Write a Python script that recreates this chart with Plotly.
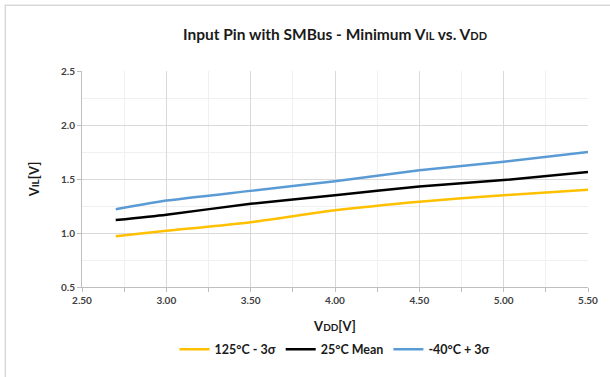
import plotly.graph_objects as go

vdd = [2.7, 3.0, 3.5, 4.0, 4.5, 5.0, 5.5]
hot_minus_3s = [0.97, 1.02, 1.10, 1.21, 1.29, 1.35, 1.40]
room_mean = [1.12, 1.17, 1.27, 1.35, 1.43, 1.49, 1.565]
cold_plus_3s = [1.22, 1.30, 1.39, 1.48, 1.58, 1.66, 1.75]
names = ["125°C - 3σ", "25°C Mean", "-40°C + 3σ"]
colors = ["#FFC000", "#000000", "#5B9BD5"]

FONT = "Lato, 'Open Sans', sans-serif"
fig = go.Figure()
for ys, n, c in zip([hot_minus_3s, room_mean, cold_plus_3s], names, colors):
    fig.add_trace(go.Scatter(x=vdd, y=ys, name="<b>" + n + "</b>", mode="lines",
                             line=dict(color=c, width=2.5, shape="spline", smoothing=0.6)))

L, R, T, B = 82, 20, 71, 89
W, H = 610, 377
pw, ph = W - L - R, H - T - B

def px(x):
    return (x - L) / pw

def py(y):
    return (H - B - y) / ph

fig.update_layout(
    width=W, height=H,
    margin=dict(l=L, r=R, t=T, b=B),
    paper_bgcolor="white", plot_bgcolor="white",
    font=dict(family=FONT, color="#404040"),
    title=dict(text="<b>Input Pin with SMBus - Minimum V<span style='font-size:11px'>IL</span> vs. V<span style='font-size:11px'>DD</span></b>",
               x=0.5, xref="paper", y=1 - 35 / H, yanchor="middle",
               font=dict(size=15.5, color="#1a1a1a", family=FONT)),
    xaxis=dict(range=[2.5, 5.5], dtick=0.5, tickformat=".2f",
               showgrid=True, gridcolor="#d9d9d9", gridwidth=1,
               minor=dict(dtick=0.25, showgrid=True, gridcolor="#f0f0f0", ticks="outside", ticklen=4, tickcolor="#bfbfbf"),
               ticks="outside", ticklen=4, tickcolor="#bfbfbf",
               showline=True, linecolor="#bfbfbf", linewidth=1,
               tickfont=dict(size=10, color="#404040", family=FONT, weight="bold"),
               title=dict(text="<b>V<span style='font-size:10px'>DD</span>[V]</b>", font=dict(size=13, color="#1a1a1a"), standoff=16),
               zeroline=False),
    yaxis=dict(range=[0.5, 2.5], dtick=0.5, tickformat=".1f",
               showgrid=True, gridcolor="#d9d9d9", gridwidth=1,
               minor=dict(dtick=0.25, showgrid=True, gridcolor="#f0f0f0"),
               ticks="outside", ticklen=4, tickcolor="#bfbfbf",
               showline=True, linecolor="#bfbfbf", linewidth=1,
               tickfont=dict(size=10, color="#404040", family=FONT, weight="bold"),
               title=dict(text="<b>V<span style='font-size:10px'>IL</span>[V]</b>", font=dict(size=13, color="#1a1a1a"), standoff=18),
               zeroline=False),
    legend=dict(orientation="h", x=0.5, xanchor="center", y=py(351), yanchor="middle",
                font=dict(size=12.5, color="#1a1a1a", family=FONT),
                tracegroupgap=0),
    showlegend=True,
)

# chart border (partially visible)
fig.add_shape(type="rect", xref="paper", yref="paper", x0=px(5), x1=px(700), y0=py(5), y1=py(500),
              line=dict(color="#d9d9d9", width=1.5), fillcolor="rgba(0,0,0,0)", layer="above")

fig.write_html("out.html", config={"displayModeBar": False},
               post_script="document.body.style.margin='0';")
